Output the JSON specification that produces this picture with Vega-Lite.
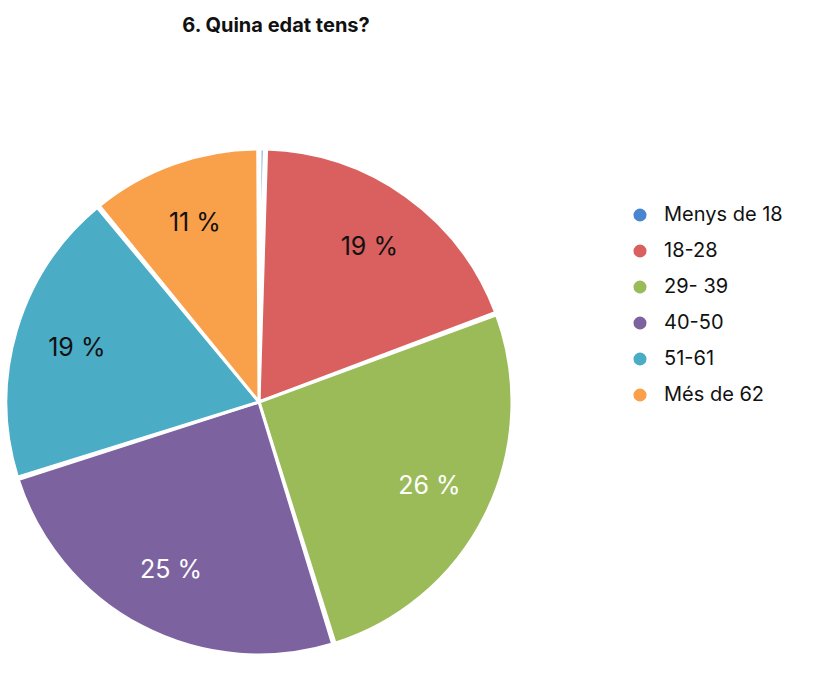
{
  "$schema": "https://vega.github.io/schema/vega-lite/v6.json",
  "width": 510,
  "height": 540,
  "padding": {"left": 0, "top": 16, "right": 0, "bottom": 0},
  "background": "white",
  "title": {
    "text": "6. Quina edat tens?",
    "font": "Inter",
    "fontSize": 20,
    "fontWeight": "bold",
    "color": "#111111",
    "anchor": "middle",
    "dx": 17,
    "offset": 96
  },
  "data": {
    "values": [
      {"grup": "Menys de 18", "ordre": 1, "pct": 0.4, "etiqueta": ""},
      {"grup": "18-28", "ordre": 2, "pct": 19, "etiqueta": "19 %"},
      {"grup": "29- 39", "ordre": 3, "pct": 26, "etiqueta": "26 %"},
      {"grup": "40-50", "ordre": 4, "pct": 25, "etiqueta": "25 %"},
      {"grup": "51-61", "ordre": 5, "pct": 19, "etiqueta": "19 %"},
      {"grup": "Més de 62", "ordre": 6, "pct": 11, "etiqueta": "11 %"}
    ]
  },
  "encoding": {
    "theta": {"field": "pct", "type": "quantitative", "stack": true},
    "order": {"field": "ordre", "type": "quantitative"}
  },
  "layer": [
    {
      "mark": {"type": "arc", "outerRadius": 253, "stroke": "white", "strokeWidth": 3, "padAngle": 0.01},
      "encoding": {
        "color": {
          "field": "grup",
          "type": "nominal",
          "sort": ["Menys de 18", "18-28", "29- 39", "40-50", "51-61", "Més de 62"],
          "scale": {
            "domain": ["Menys de 18", "18-28", "29- 39", "40-50", "51-61", "Més de 62"],
            "range": ["#4a86d0", "#d9605e", "#9bbb59", "#7d62a0", "#4bacc6", "#f9a04a"]
          },
          "legend": {
            "title": null,
            "orient": "none",
            "legendX": 626,
            "legendY": 73,
            "symbolType": "circle",
            "symbolSize": 170,
            "symbolStrokeWidth": 0,
            "labelFont": "Inter",
            "labelFontSize": 20,
            "labelColor": "#111111",
            "labelOffset": 14,
            "rowPadding": 16,
            "labelLimit": 300
          }
        }
      }
    },
    {
      "mark": {"type": "text", "radius": 190, "font": "Inter", "fontSize": 25},
      "encoding": {
        "text": {"field": "etiqueta"},
        "color": {
          "condition": {"test": "datum.ordre == 3 || datum.ordre == 4", "value": "white"},
          "value": "#111111"
        }
      }
    }
  ],
  "config": {"view": {"stroke": null}}
}
